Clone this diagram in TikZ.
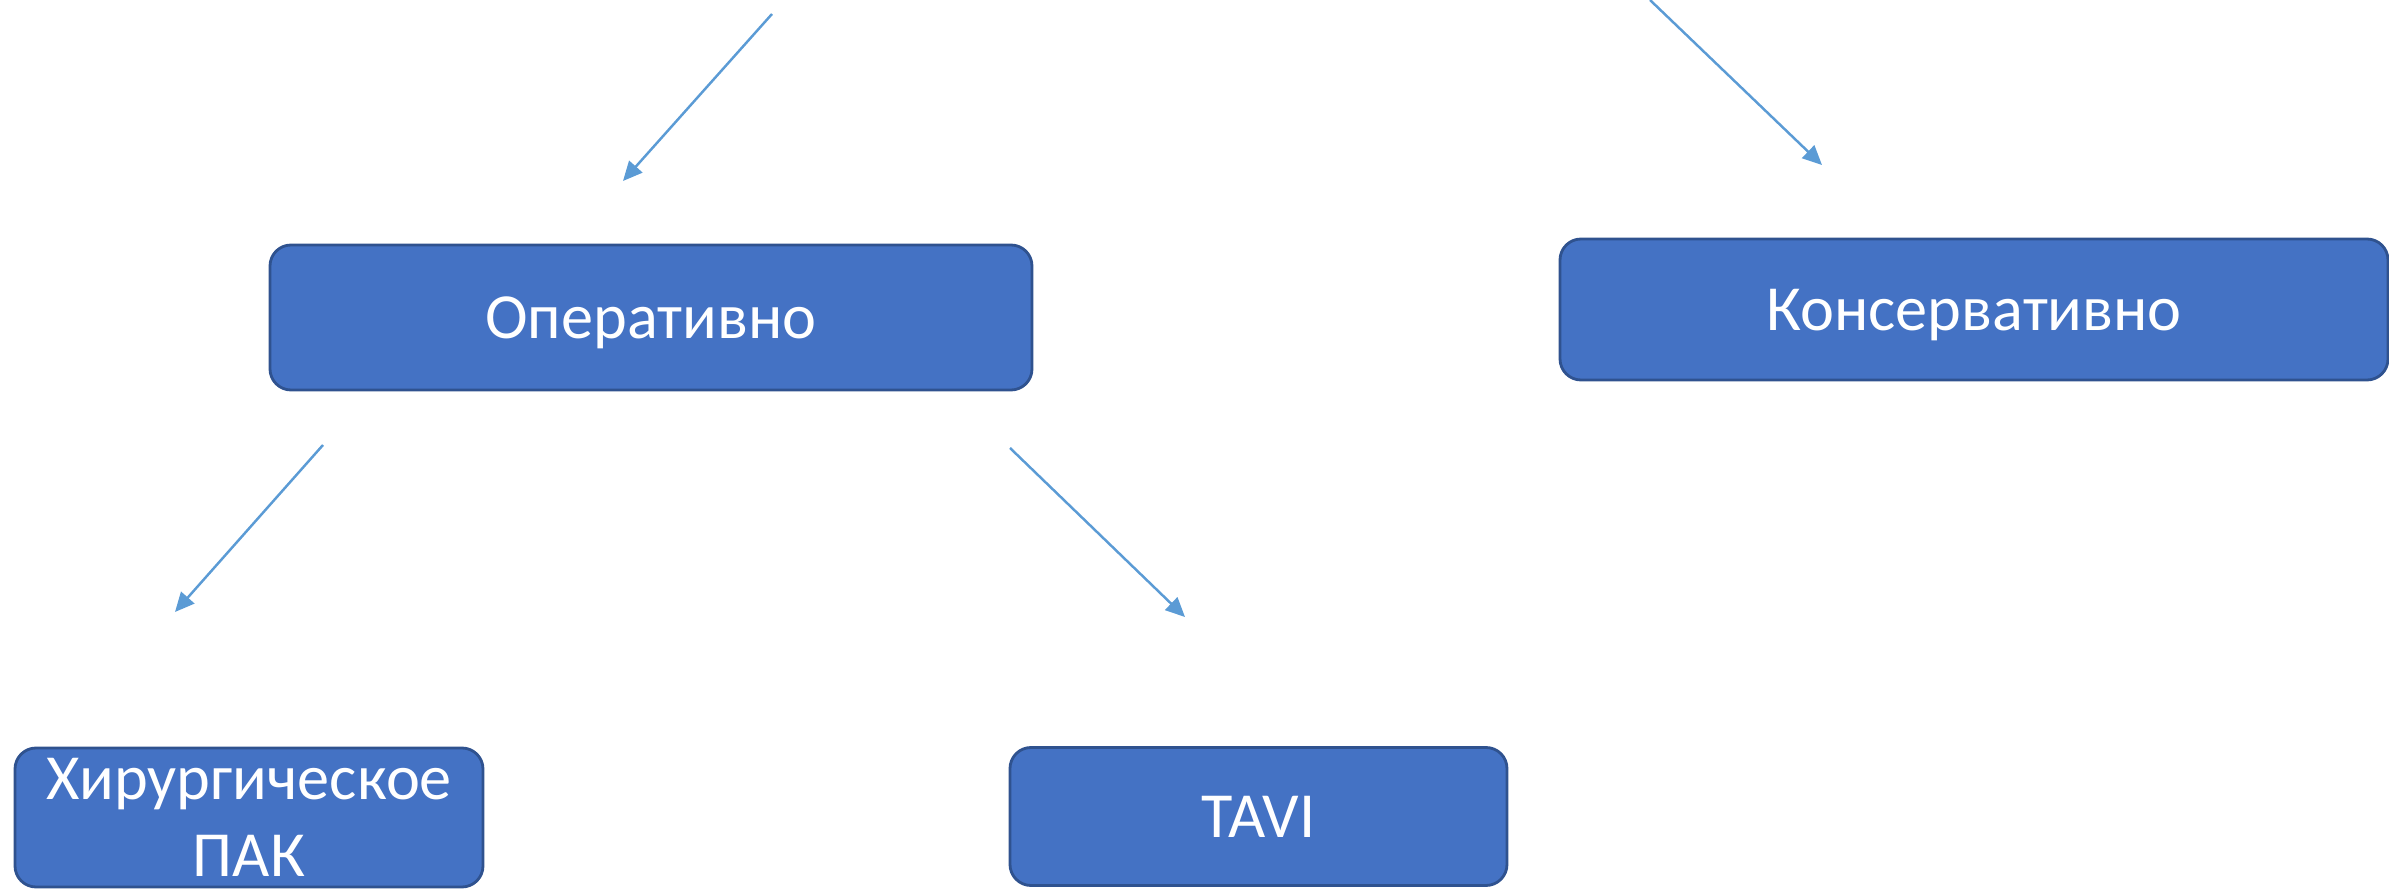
\documentclass[tikz,border=0pt]{standalone}
\usepackage{fontspec}
\setmainfont{Carlito}
\usetikzlibrary{arrows.meta}
\definecolor{boxfill}{HTML}{4472C4}
\definecolor{boxline}{HTML}{2F528F}
\definecolor{arrowblue}{HTML}{5B9BD5}
\begin{document}
\begin{tikzpicture}[
                box/.style={draw=boxline,fill=boxfill,line width=0.8pt,rounded corners=0.21cm,
                    text=white,align=center,inner sep=0pt,text depth=0pt,
                    font=\fontsize{18.3}{21.8}\selectfont},
                link/.style={draw=arrowblue,line width=0.7pt,-{Triangle[length=5.5pt,width=5pt]}}]
                \useasboundingbox (0,0) rectangle (23.89,8.89);
                \node[box,minimum width=7.62cm,minimum height=1.45cm] (oper) at (6.51,5.715) {Оперативно};
                \node[box,minimum width=8.28cm,minimum height=1.41cm] (kons) at (19.74,5.795) {Консервативно};
                \node[box,minimum width=4.68cm,minimum height=1.39cm] (pak) at (2.49,0.715) {Хирургическое\\ПАК};
                \node[box,minimum width=4.97cm,minimum height=1.38cm] (tavi) at (12.585,0.725) {TAVI};
                \coordinate (a1s) at (7.72,8.75);
                \coordinate (a1e) at (6.23,7.08);
                \coordinate (a2s) at (16.50,8.89);
                \coordinate (a2e) at (18.22,7.24);
                \coordinate (a3s) at (3.23,4.44);
                \coordinate (a3e) at (1.75,2.77);
                \coordinate (a4s) at (10.10,4.41);
                \coordinate (a4e) at (11.85,2.72);
                \draw[link] (a1s) -- (a1e);
                \draw[link] (a2s) -- (a2e);
                \draw[link] (a3s) -- (a3e);
                \draw[link] (a4s) -- (a4e);
\end{tikzpicture}
\end{document}
